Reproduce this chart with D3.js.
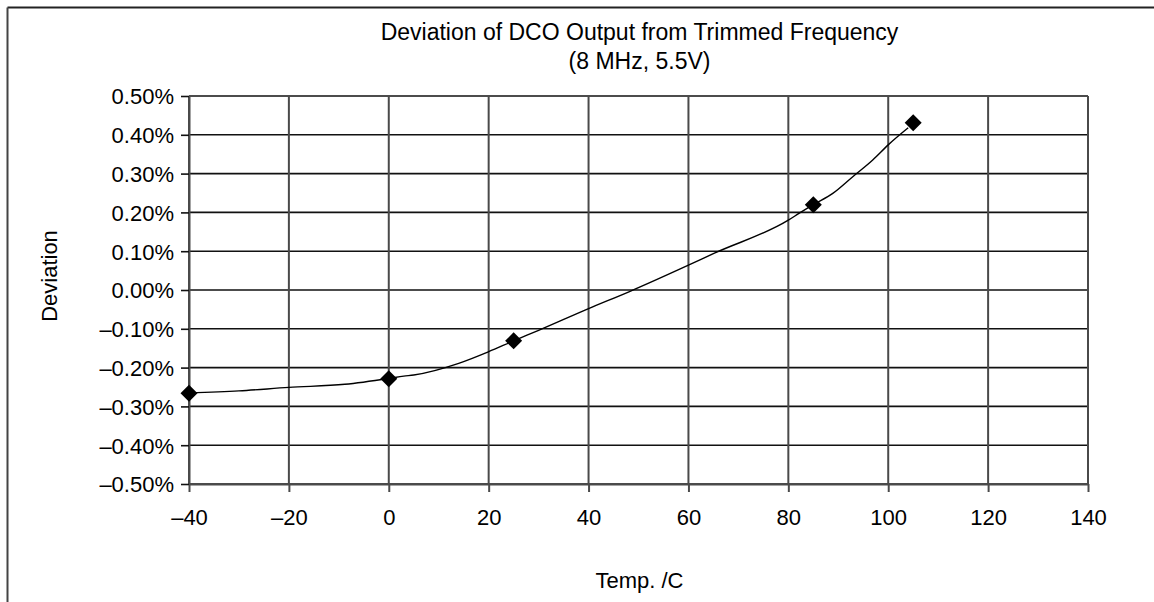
<!DOCTYPE html>
<html>
<head>
<meta charset="utf-8">
<script src="https://cdn.jsdelivr.net/npm/d3@7"></script>
<style>
  html, body { margin: 0; padding: 0; background: #fff; }
  svg { display: block; font-family: "Liberation Sans", Arial, Helvetica, sans-serif; }
</style>
</head>
<body>
<svg id="chart" width="1154" height="602"></svg>
<script>
// ---- data ----
const markerTemps = [-40, 0, 25, 85, 105];
const markerDeviation = [-0.266, -0.229, -0.131, 0.220, 0.431];

const curveTemps = [-40, -30, -20, -8.8, 0, 3, 5, 14, 20, 25, 30, 40, 48.2, 60, 65.2, 80, 82.2, 85, 88.9, 92.9, 96.9, 100, 104];
const curveDeviation = [-0.265, -0.260, -0.251, -0.243, -0.228, -0.222, -0.219, -0.189, -0.159, -0.131, -0.104, -0.048, -0.004, 0.064, 0.095, 0.180, 0.198, 0.220, 0.249, 0.292, 0.335, 0.374, 0.418];

const xTicks = [-40, -20, 0, 20, 40, 60, 80, 100, 120, 140];
const yTicks = [0.5, 0.4, 0.3, 0.2, 0.1, 0.0, -0.1, -0.2, -0.3, -0.4, -0.5];

const titleLines = ["Deviation of DCO Output from Trimmed Frequency", "(8 MHz, 5.5V)"];
const xLabel = "Temp. /C";
const yLabel = "Deviation";

// ---- layout ----
const W = 1154, H = 602;
const plot = { left: 189, right: 1088, top: 96, bottom: 484 };
const FS = 22;

const svg = d3.select("#chart");

const x = d3.scaleLinear().domain([-40, 140]).range([plot.left, plot.right]);
const y = d3.scaleLinear().domain([-0.5, 0.5]).range([plot.bottom, plot.top]);

// frame
svg.append("line").attr("x1", 7.5).attr("x2", W).attr("y1", 7.5).attr("y2", 7.5)
  .attr("stroke", "#222").attr("stroke-width", 2);
svg.append("line").attr("x1", 7.5).attr("x2", 7.5).attr("y1", 7.5).attr("y2", H)
  .attr("stroke", "#444").attr("stroke-width", 2);

// horizontal grid
svg.append("g").selectAll("line").data(yTicks).join("line")
  .attr("x1", plot.left).attr("x2", plot.right)
  .attr("y1", d => y(d)).attr("y2", d => y(d))
  .attr("stroke", "#111").attr("stroke-width", 1.6);

// vertical grid
svg.append("g").selectAll("line").data(xTicks).join("line")
  .attr("x1", d => x(d)).attr("x2", d => x(d))
  .attr("y1", plot.top).attr("y2", plot.bottom)
  .attr("stroke", "#4a4a4a").attr("stroke-width", 2);

const fmtY = d => {
  const s = Math.abs(d).toFixed(2) + "%";
  return d < -1e-9 ? "\u2013" + s : s;
};
const fmtX = d => d < 0 ? "\u2013" + Math.abs(d) : String(d);

// x axis
const gx = svg.append("g").attr("transform", `translate(0,${plot.bottom})`)
  .call(d3.axisBottom(x).tickValues(xTicks).tickSize(8).tickSizeOuter(0).tickFormat(fmtX));
gx.select(".domain").attr("stroke", "#4a4a4a").attr("stroke-width", 2);
gx.selectAll(".tick line").attr("stroke", "#4a4a4a").attr("stroke-width", 2);
gx.selectAll(".tick text").attr("y", 41).attr("dy", null)
  .attr("font-size", FS).attr("fill", "#000").attr("font-family", "Liberation Sans, Arial, sans-serif");

// y axis
const gy = svg.append("g").attr("transform", `translate(${plot.left},0)`)
  .call(d3.axisLeft(y).tickValues(yTicks).tickSize(8).tickSizeOuter(0).tickPadding(7).tickFormat(fmtY));
gy.select(".domain").attr("stroke", "#4a4a4a").attr("stroke-width", 2);
gy.selectAll(".tick line").attr("stroke", "#111").attr("stroke-width", 1.6);
gy.selectAll(".tick text").attr("dy", "0.36em")
  .attr("font-size", FS).attr("fill", "#000").attr("font-family", "Liberation Sans, Arial, sans-serif");

// curve
const curvePts = curveTemps.map((t, i) => [t, curveDeviation[i]]);
svg.append("path").datum(curvePts)
  .attr("fill", "none").attr("stroke", "#000").attr("stroke-width", 1.4)
  .attr("d", d3.line().x(d => x(d[0])).y(d => y(d[1])).curve(d3.curveMonotoneX));

// markers
const markerPts = markerTemps.map((t, i) => [t, markerDeviation[i]]);
svg.append("g").selectAll("path").data(markerPts).join("path")
  .attr("transform", d => `translate(${x(d[0])},${y(d[1])})`)
  .attr("d", "M0,-8.5L8.5,0L0,8.5L-8.5,0Z")
  .attr("fill", "#000");

// title
svg.append("g").selectAll("text").data(titleLines).join("text")
  .attr("x", (plot.left + plot.right) / 2 + 1)
  .attr("y", (d, i) => 40 + i * 29)
  .attr("text-anchor", "middle").attr("font-size", 23).attr("fill", "#000")
  .text(d => d);

// axis labels
svg.append("text").attr("x", (plot.left + plot.right) / 2 + 1).attr("y", 588)
  .attr("text-anchor", "middle").attr("font-size", FS).attr("fill", "#000").text(xLabel);
svg.append("text").attr("transform", "translate(57,276) rotate(-90)")
  .attr("text-anchor", "middle").attr("font-size", FS).attr("fill", "#000").text(yLabel);
</script>
</body>
</html>
